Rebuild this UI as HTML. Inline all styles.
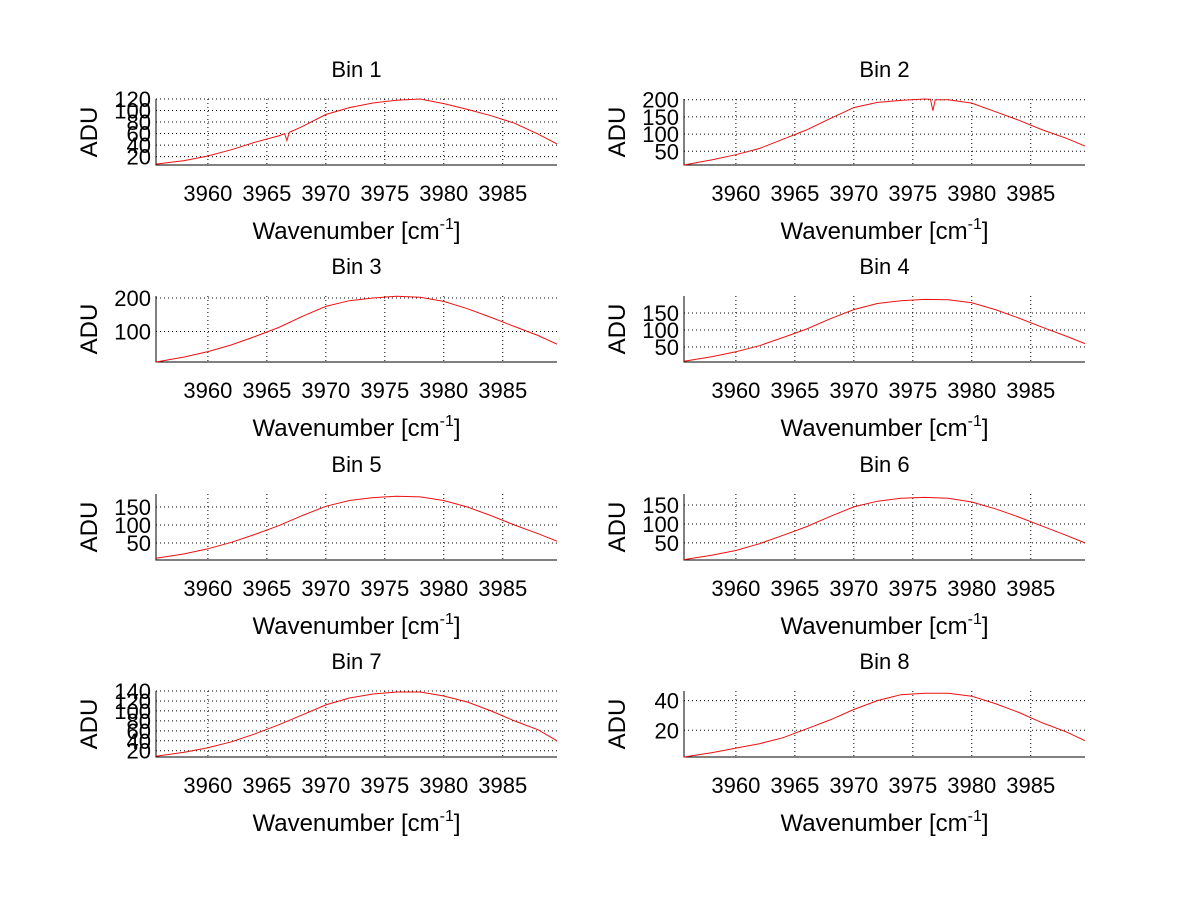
<!DOCTYPE html>
<html><head><meta charset="utf-8"><style>
html,body{margin:0;padding:0;background:#fff;}
svg{display:block;font-family:"Liberation Sans",Arial,sans-serif;}
</style></head><body>
<svg id="fig" width="1200" height="901" viewBox="0 0 1200 901" xmlns="http://www.w3.org/2000/svg"></svg>
<script>
const xs = [3955.6,3958,3960,3962,3964,3966,3968,3970,3972,3974,3976,3978,3980,3982,3984,3986,3988,3989.6];
const xTicks = [3960,3965,3970,3975,3980,3985];
const y1 = [7,13,21,32,45,56,72,93,105,113,118,120,112,102,91,78,59,42];
const y2 = [10,25,40,58,85,112,145,177,192,198,202,200,190,165,140,112,88,65];
const y3 = [9,24,40,60,85,112,145,175,192,200,205,202,190,168,142,115,88,62];
const y4 = [8,22,36,54,78,103,133,160,178,186,190,189,180,160,135,108,82,60];
const y5 = [8,20,34,52,74,98,126,152,168,176,180,178,168,150,126,100,76,55];
const y6 = [6,18,30,48,70,93,120,145,160,168,170,168,158,140,118,94,70,50];
const y7 = [9,17,26,38,54,72,92,112,126,134,138,138,130,118,100,80,62,40];
const y8 = [2,5,8,11,15,21,27,34,40,44,45,45,43,38,32,25,19,13];
const dip1X = [3966.5,3966.7,3966.9];
const dip1Y = [60,48,62];
const dip2X = [3976.5,3976.7,3976.9];
const dip2Y = [201,168,200];
const yTicks1 = [20,40,60,80,100,120];
const yTicks2 = [50,100,150,200];
const yTicks3 = [100,200];
const yTicks4 = [50,100,150];
const yTicks5 = [50,100,150];
const yTicks6 = [50,100,150];
const yTicks7 = [20,40,60,80,100,120,140];
const yTicks8 = [20,40];
const yLims = [[5.4,120],[10,202],[9,206],[6,200],[3,186],[5,179],[7.4,140],[2,46.5]];
const xLim = [3955.6,3989.6];

const svg = document.getElementById('fig');
const NS = 'http://www.w3.org/2000/svg';
function mk(tag, attrs, parent){const e=document.createElementNS(NS,tag);for(const k in attrs)e.setAttribute(k,attrs[k]);parent.appendChild(e);return e;}

const series = [y1,y2,y3,y4,y5,y6,y7,y8];
const ticksAll = [yTicks1,yTicks2,yTicks3,yTicks4,yTicks5,yTicks6,yTicks7,yTicks8];
const lefts = [156,684];
const W = 401;
const tops = [99,296,494,691];
const H = 66;

for(let i=0;i<8;i++){
  const col=i%2,row=Math.floor(i/2);
  const L=lefts[col],T=tops[row],B=T+H,R=L+W;
  const g=mk('g',{},svg);
  
  
  const sx=v=>L+(v-xLim[0])/(xLim[1]-xLim[0])*W;
  const [y0,yM]=yLims[i];
  const sy=v=>B-(v-y0)/(yM-y0)*H;
  xTicks.forEach(t=>{
    const l=mk('line',{x1:sx(t),x2:sx(t),y1:T,y2:B,stroke:'#000','stroke-width':1,'stroke-dasharray':'1,3'},g);
    
    
    const tx=mk('text',{x:sx(t),y:B+36,'text-anchor':'middle','font-size':22,fill:'#000'},g);
    tx.textContent=t;
    
    
  });
  ticksAll[i].forEach(t=>{
    const l=mk('line',{x1:L,x2:R,y1:sy(t),y2:sy(t),stroke:'#000','stroke-width':1,'stroke-dasharray':'1,3'},g);
    
    
    const tx=mk('text',{x:L-5,y:sy(t)+8,'text-anchor':'end','font-size':22,fill:'#000'},g);
    tx.textContent=t;
    
    
  });
  const ax=mk('path',{d:`M${L},${T} L${L},${B} L${R},${B}`,fill:'none',stroke:'#000','stroke-width':1},g);
  
  
  let px=xs.slice(),py=series[i].slice();
  const addDip=(dx,dy)=>{dx.forEach((x,k)=>{let j=px.findIndex(v=>v>x);px.splice(j,0,x);py.splice(j,0,dy[k]);});};
  if(i===0)addDip(dip1X,dip1Y);
  if(i===1)addDip(dip2X,dip2Y);
  const pts=px.map((x,k)=>sx(x).toFixed(1)+','+sy(py[k]).toFixed(1)).join(' ');
  const pl=mk('polyline',{points:pts,fill:'none',stroke:'#ee1010','stroke-width':1},g);
  
  
  const tt=mk('text',{x:L+W/2,y:T-22,'text-anchor':'middle','font-size':22,fill:'#000'},g);
  tt.textContent='Bin '+(i+1);
  
  
  const xl=mk('text',{x:L+W/2,y:B+74,'text-anchor':'middle','font-size':24,fill:'#000'},g);
  xl.innerHTML='Wavenumber [cm<tspan dy="-10" font-size="16">-1</tspan><tspan dy="10">]</tspan>';
  
  
  const yl=mk('text',{x:0,y:0,'text-anchor':'middle','font-size':24,fill:'#000',transform:`translate(${L-59},${T+H/2}) rotate(-90)`},g);
  yl.textContent='ADU';
  
  
}
</script>
</body></html>
